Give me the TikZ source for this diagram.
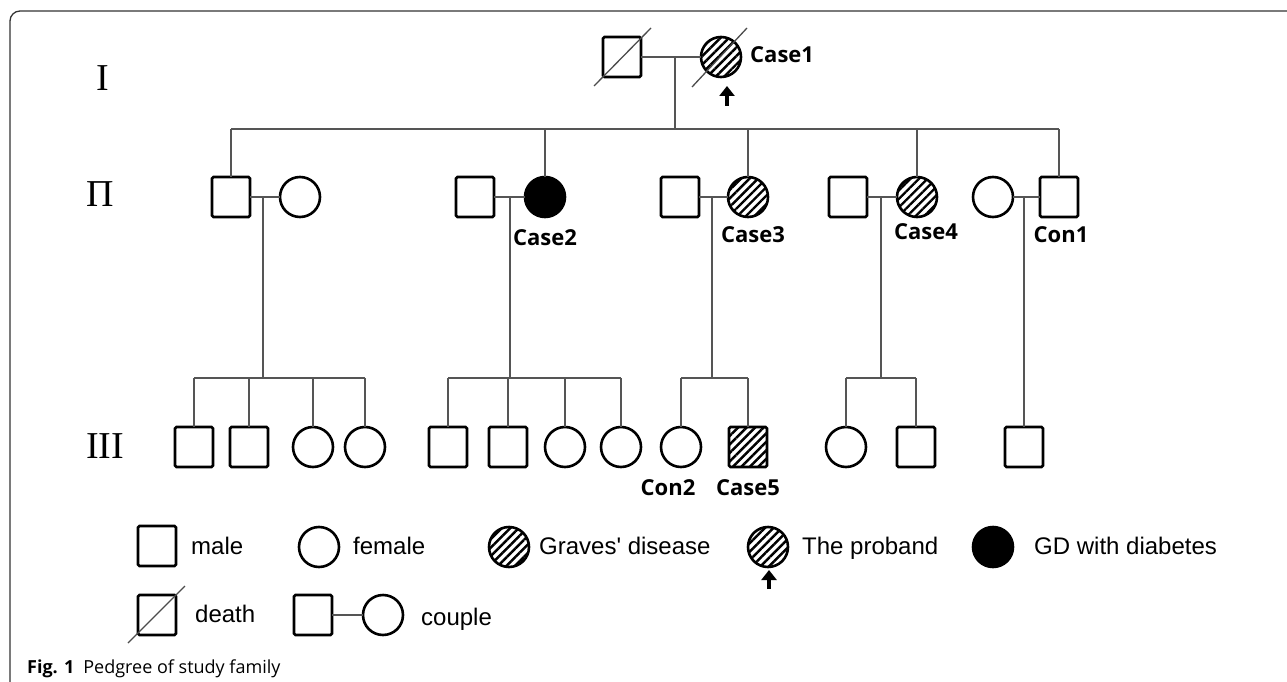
\documentclass[tikz,border=0pt]{standalone}
\usepackage{fontspec}
\setmainfont{Liberation Sans}[Ligatures=TeXOff]
\newfontfamily\labfont{Open Sans}
\newfontfamily\romfont{Liberation Serif}
\usetikzlibrary{patterns.meta,arrows.meta}
\definecolor{linkgray}{HTML}{555555}
\tikzset{
  shp/.style={draw=black,line width=2.6pt,inner sep=0pt,outer sep=0pt},
  male/.style={shp,rectangle,rounded corners=1.5pt,minimum width=38pt,minimum height=40pt},
  female/.style={shp,circle,minimum size=40pt},
  hatched/.style={pattern={Lines[angle=45,distance=6pt,line width=2.4pt]},pattern color=black},
  affected/.style={fill=black},
  link/.style={draw=linkgray,line width=1.2pt},
  slash/.style={draw=gray!60!black,line width=1.3pt},
  probarrow/.style={line width=4.5pt,-{Triangle[width=15pt,length=10pt]}},
  lab/.style={font=\labfont\bfseries\fontsize{22}{22}\selectfont,inner sep=0pt},
  leg/.style={font=\fontsize{24}{24}\selectfont,inner sep=0pt,anchor=base west},
  gen/.style={font=\romfont\fontsize{38}{38}\selectfont,inner sep=0pt},
}
\begin{document}
\begin{tikzpicture}[x=1pt,y=-1pt]
\useasboundingbox (0,0) rectangle (1287,682);
\fill[white] (0,0) rectangle (1287,682);
% frame
\draw[line width=1.3pt,draw=black!80,rounded corners=10pt] (10,682) -- (10,11) -- (1287,11);

% generation labels
\node[gen] (LI) at (103,78) {I};
\node[gen] (LII) at (100,194) {Π};
\node[gen] (LIII) at (105,446) {III};

% ---------- Generation I ----------
\node[male] (g1m) at (622,57) {};
\node[female,hatched] (g1f) at (721,57) {};
\draw[slash] (594,86) -- (651,28);
\draw[slash] (692,87) -- (747,28);
\draw[probarrow] (727,106) -- (727,86);
\node[lab,anchor=west] (c1lab) at (750,55) {Case1};
\coordinate (j1) at (675,57);
\coordinate (s1) at (675,129);
\draw[link] (g1m.east) -- (g1f.west);
\draw[link] (j1) -- (s1);

% ---------- Generation II ----------
\node[male] (g2m1) at (231,197) {};
\node[female] (g2f1) at (300,197) {};
\node[male] (g2m2) at (475,197) {};
\node[female,affected] (g2f2) at (545,197) {};
\node[male] (g2m3) at (680,197) {};
\node[female,hatched] (g2f3) at (748,197) {};
\node[male] (g2m4) at (848,197) {};
\node[female,hatched] (g2f4) at (917,197) {};
\node[female] (g2f5) at (993,197) {};
\node[male] (g2m5) at (1059,197) {};

\node[lab] (c2lab) at (545,238) {Case2};
\node[lab] (c3lab) at (753,235) {Case3};
\node[lab] (c4lab) at (926,232) {Case4};
\node[lab] (con1lab) at (1061,235) {Con1};

% sibship line of generation II
\draw[link] (g2m1.north |- s1) -- (g2m5.north |- s1);
\foreach \n in {g2m1,g2f2,g2f3,g2f4,g2m5}
  \draw[link] (\n.north) -- (\n.north |- s1);

% couples
\draw[link] (g2m1.east) -- (g2f1.west);
\draw[link] (g2m2.east) -- (g2f2.west);
\draw[link] (g2m3.east) -- (g2f3.west);
\draw[link] (g2m4.east) -- (g2f4.west);
\draw[link] (g2f5.east) -- (g2m5.west);

% ---------- Generation III ----------
\node[male] (a1) at (194,447) {};
\node[male] (a2) at (249,447) {};
\node[female] (a3) at (313,447) {};
\node[female] (a4) at (365,447) {};
\node[male] (b1) at (448,447) {};
\node[male] (b2) at (508,447) {};
\node[female] (b3) at (565,447) {};
\node[female] (b4) at (621,447) {};
\node[female] (d1) at (681,447) {};
\node[male,hatched] (d2) at (748,447) {};
\node[female] (e1) at (846,447) {};
\node[male] (e2) at (916,447) {};
\node[male] (f1) at (1024,447) {};

\node[lab] (con2lab) at (668,488) {Con2};
\node[lab] (c5lab) at (748,488) {Case5};

% couple drops
\coordinate (ja) at (263,197); \coordinate (sa) at (263,378);
\coordinate (jb) at (510,197); \coordinate (sb) at (510,378);
\coordinate (jd) at (712,197); \coordinate (sd) at (712,378);
\coordinate (je) at (881,197); \coordinate (se) at (881,378);
\coordinate (jf) at (1024,197);
\draw[link] (ja) -- (sa);
\draw[link] (jb) -- (sb);
\draw[link] (jd) -- (sd);
\draw[link] (je) -- (se);
\draw[link] (jf) -- (f1.north);

% sibship lines
\draw[link] (a1.north |- sa) -- (a4.north |- sa);
\draw[link] (b1.north |- sb) -- (b4.north |- sb);
\draw[link] (d1.north |- sd) -- (d2.north |- sd);
\draw[link] (e1.north |- se) -- (e2.north |- se);
\foreach \n in {a1,a2,a3,a4} \draw[link] (\n.north) -- (\n.north |- sa);
\foreach \n in {b1,b2,b3,b4} \draw[link] (\n.north) -- (\n.north |- sb);
\foreach \n in {d1,d2} \draw[link] (\n.north) -- (\n.north |- sd);
\foreach \n in {e1,e2} \draw[link] (\n.north) -- (\n.north |- se);

% ---------- Legend ----------
\node[male] (lm) at (157,546) {};
\node[leg] (lmt) at (191,554) {male};
\node[female] (lf) at (319,547) {};
\node[leg] (lft) at (353,554) {female};
\node[female,hatched] (lg) at (509,547) {};
\node[leg] (lgt) at (539,554) {Graves' disease};
\node[female,hatched] (lp) at (768,547) {};
\draw[probarrow] (769,589) -- (769,570);
\node[leg] (lpt) at (802,554) {The proband};
\node[female,affected] (ld) at (993,547) {};
\node[leg] (ldt) at (1034,554) {GD with diabetes};

\node[male] (lde) at (157,615) {};
\draw[slash] (128,643) -- (185,586);
\node[leg] (ldet) at (195,622) {death};
\node[male] (lcm) at (313,615) {};
\node[female] (lcf) at (383,615) {};
\draw[link] (lcm.east) -- (lcf.west);
\node[leg] (lct) at (421,625) {couple};

% caption
\node[anchor=base west,inner sep=0pt,font=\labfont\fontsize{18}{18}\selectfont] (cap) at (27,673)
  {\textbf{Fig. 1}\hspace{9pt}Pedgree of study family};
\end{tikzpicture}
\end{document}
